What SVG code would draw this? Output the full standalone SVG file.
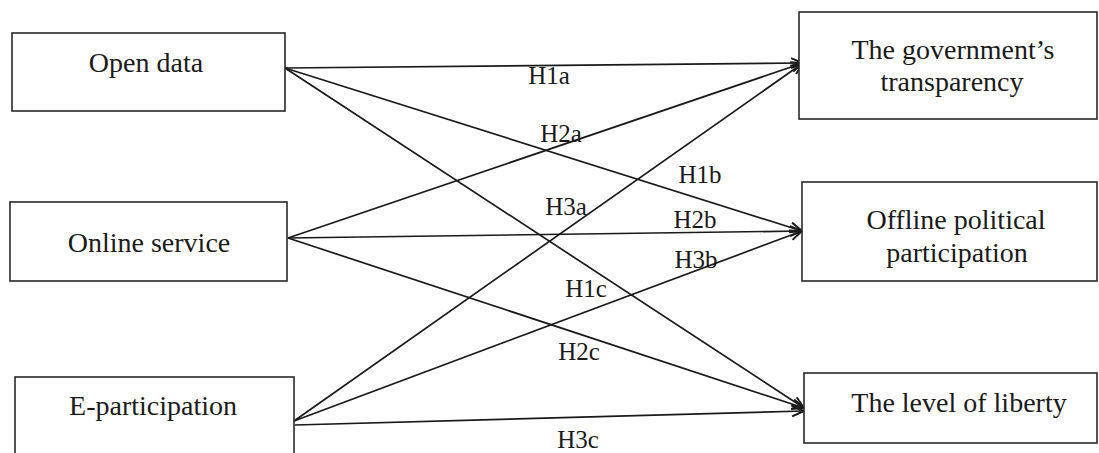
<svg xmlns="http://www.w3.org/2000/svg" width="1099" height="453" viewBox="0 0 1099 453">
<style>
.box{fill:#fff;stroke:#2a2a2a;stroke-width:1.6}
.t{font-family:"Liberation Serif","Times New Roman",serif;font-size:28px;fill:#1a1a1a;text-anchor:middle}
.lbl{font-family:"Liberation Serif","Times New Roman",serif;font-size:25px;fill:#1a1a1a;text-anchor:middle}
.c{stroke:#1a1a1a;stroke-width:1.7;fill:none;marker-end:url(#arr)}
</style>
<defs>
<marker id="arr" markerUnits="userSpaceOnUse" markerWidth="16" markerHeight="14" refX="13" refY="6" orient="auto">
<path d="M1,1 L13,6 L1,11" fill="none" stroke="#1a1a1a" stroke-width="2"/>
</marker>
</defs>
<rect width="1099" height="453" fill="#fff"/>
<g id="connectors">
<line class="c" x1="285" y1="68" x2="803" y2="63"/>
<line class="c" x1="285" y1="68" x2="802" y2="231"/>
<line class="c" x1="285" y1="68" x2="804" y2="408"/>
<line class="c" x1="288" y1="238" x2="803" y2="63"/>
<line class="c" x1="288" y1="238" x2="802" y2="231"/>
<line class="c" x1="288" y1="238" x2="804" y2="408"/>
<line class="c" x1="294" y1="421" x2="803" y2="63"/>
<line class="c" x1="294" y1="421" x2="802" y2="231"/>
<line class="c" x1="295" y1="425" x2="804" y2="411"/>
</g>
<g id="labels">
<text class="lbl" x="549" y="84">H1a</text>
<text class="lbl" x="561" y="142">H2a</text>
<text class="lbl" x="700" y="183">H1b</text>
<text class="lbl" x="566" y="215">H3a</text>
<text class="lbl" x="695" y="228">H2b</text>
<text class="lbl" x="696" y="268">H3b</text>
<text class="lbl" x="586" y="297">H1c</text>
<text class="lbl" x="579" y="360">H2c</text>
<text class="lbl" x="578" y="448">H3c</text>
</g>
<g id="node-open-data">
<rect class="box" x="12" y="33" width="273" height="78"/>
<text class="t" x="146" y="72">Open data</text>
</g>
<g id="node-online-service">
<rect class="box" x="10" y="202" width="277" height="79"/>
<text class="t" x="149" y="252">Online service</text>
</g>
<g id="node-e-participation">
<rect class="box" x="15" y="377" width="279" height="90"/>
<text class="t" x="153" y="415">E-participation</text>
</g>
<g id="node-transparency">
<rect class="box" x="799" y="12" width="298" height="107"/>
<text class="t" x="953" y="59">The government’s</text>
<text class="t" x="952" y="91">transparency</text>
</g>
<g id="node-offline">
<rect class="box" x="802" y="182" width="295" height="99"/>
<text class="t" x="956" y="229">Offline political</text>
<text class="t" x="957" y="262">participation</text>
</g>
<g id="node-liberty">
<rect class="box" x="804" y="373" width="293" height="70"/>
<text class="t" x="959" y="412">The level of liberty</text>
</g>
</svg>
